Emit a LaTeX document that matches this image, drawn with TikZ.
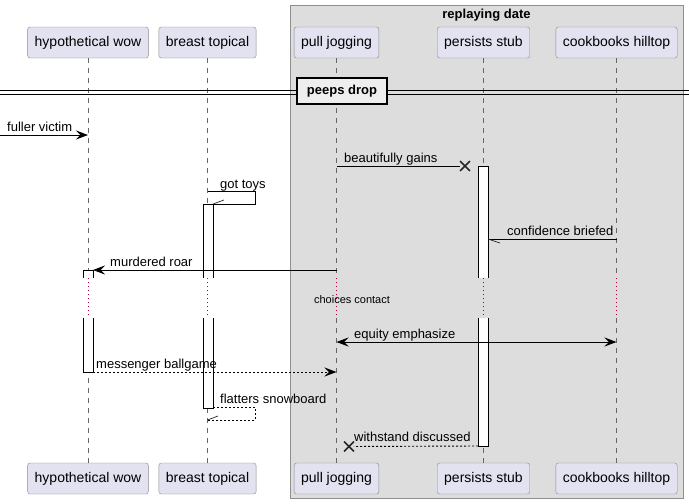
\documentclass[tikz,border=0pt]{standalone}
\usepackage{fontspec}
\setmainfont{Liberation Sans}
\usepackage{xcolor}
\usepackage{tikz}
\usetikzlibrary{shapes}
\usetikzlibrary{shapes.misc}
\usetikzlibrary{arrows.meta}
\definecolor{partfill}{HTML}{E2E2F0}
\definecolor{partline}{HTML}{8A8A8A}
\definecolor{groupfill}{HTML}{DDDDDD}
\definecolor{groupline}{HTML}{8F8F8F}
\definecolor{divfill}{HTML}{EEEEEE}
\definecolor{delaydot}{HTML}{A80036}
\tikzset{cross/.style={cross out, draw=black!85, line width=1.6pt, fill=none, minimum size=2*(#1-\pgflinewidth), inner sep=0pt, outer sep=0pt}, cross/.default={6.5pt}}
\tikzset{part/.style={draw=partline, fill=partfill, rounded corners=2.5pt, minimum height=31pt, inner xsep=7pt, font=\fontsize{14}{16}\selectfont}}
\tikzset{life/.style={draw=black!60, line width=0.7pt, dash pattern=on 5pt off 5pt}}
\tikzset{delay/.style={draw=delaydot, line width=0.8pt, dash pattern=on 1pt off 3pt}}
\tikzset{msg/.style={draw=black, line width=0.9pt, -{Stealth[length=12pt, width=9pt, inset=4.5pt]}}}
\tikzset{rmsg/.style={msg, dash pattern=on 2pt off 2pt}}
\tikzset{half/.style={draw=black!85, line width=0.7pt}}
\tikzset{lbl/.style={anchor=base west, inner sep=0pt}}
\tikzset{act/.style={draw=black, line width=0.9pt}}

\begin{document}
\begin{tikzpicture}[x=1pt, y=-1pt, font=\fontsize{13}{15}\selectfont]
\useasboundingbox (0,0) rectangle (689,504);
\fill[white] (0,0) rectangle (689,504);
% the box round the right three
\draw[fill=groupfill, draw=groupline, line width=0.8pt] (290,5) rectangle (683,498);
\node[font=\bfseries\fontsize{13}{15}\selectfont] (grp) at (486.5,15) {replaying date};

% heads and feet
\node[part] (hw) at (88,42.5) {hypothetical wow};
\node[part] (bt) at (207.5,42.5) {breast topical};
\node[part] (pj) at (336.5,42.5) {pull jogging};
\node[part] (ps) at (483.5,42.5) {persists stub};
\node[part] (ch) at (616.5,42.5) {cookbooks hilltop};
\node[part] (hwB) at (88,478.5) {hypothetical wow};
\node[part] (btB) at (207.5,478.5) {breast topical};
\node[part] (pjB) at (336.5,478.5) {pull jogging};
\node[part] (psB) at (483.5,478.5) {persists stub};
\node[part] (chB) at (616.5,478.5) {cookbooks hilltop};

% lifelines
\draw[life] (hw.south) -- (hw |- 0,278);
\draw[delay] (hw |- 0,278) -- (hw |- 0,318);
\draw[life] (hw |- 0,318) -- (hwB.north);
\draw[life] (bt.south) -- (bt |- 0,278);
\draw[delay] (bt |- 0,278) -- (bt |- 0,318);
\draw[life] (bt |- 0,318) -- (btB.north);
\draw[life] (pj.south) -- (pj |- 0,278);
\draw[delay] (pj |- 0,278) -- (pj |- 0,318);
\draw[life] (pj |- 0,318) -- (pjB.north);
\draw[life] (ps.south) -- (ps |- 0,278);
\draw[delay] (ps |- 0,278) -- (ps |- 0,318);
\draw[life] (ps |- 0,318) -- (psB.north);
\draw[life] (ch.south) -- (ch |- 0,278);
\draw[delay] (ch |- 0,278) -- (ch |- 0,318);
\draw[life] (ch |- 0,318) -- (chB.north);

% divider
\draw[line width=0.9pt] (0,90) -- (689,90) (0,94) -- (689,94);
\node[draw=black, line width=2pt, fill=divfill, minimum width=90pt, minimum height=26pt, inner sep=0pt, font=\bfseries\fontsize{13}{15}\selectfont] (div) at (342,91) {peeps drop};

% activations
\fill[white] (83,270) rectangle (93,278);
\draw[act] (83,278) -- (83,270) -- (93,270) -- (93,278);
\fill[white] (83,318) rectangle (93,372);
\draw[act] (83,318) -- (83,372) -- (93,372) -- (93,318);
\fill[white] (203,204) rectangle (213,278);
\draw[act] (203,278) -- (203,204) -- (213,204) -- (213,278);
\fill[white] (203,318) rectangle (213,408);
\draw[act] (203,318) -- (203,408) -- (213,408) -- (213,318);
\fill[white] (478,166) rectangle (488,278);
\draw[act] (478,278) -- (478,166) -- (488,166) -- (488,278);
\fill[white] (478,318) rectangle (488,446);
\draw[act] (478,318) -- (478,446) -- (488,446) -- (488,318);
\coordinate (hwa) at (93,0);
\coordinate (bta) at (213,0);
\coordinate (psl) at (478,0);
\coordinate (psr) at (488,0);

% messages
\coordinate (in) at (0,135);
\draw[msg] (in) -- (hw |- in);
\node[lbl] (m1) at (7,131.5) {fuller victim};

\node[cross] (x1) at (465,166) {};
\draw[draw=black, line width=0.9pt] (pj |- x1) -- (x1);
\node[lbl] (m2) at (344,162) {beautifully gains};

\coordinate (s1) at (255,191);
\draw[draw=black, line width=0.9pt] (bt |- s1) -- (s1) -- (s1 |- 0,204) -- (bta |- 0,204);
\draw[half] (bta |- 0,204) -- (224,200);
\node[lbl] (m3) at (220,188) {got toys};

\draw[draw=black, line width=0.9pt] (ch |- 0,239) -- (psr |- 0,239);
\draw[half] (psr |- 0,239) -- (500,243);
\node[lbl] (m4) at (507,235.5) {confidence briefed};

\draw[msg] (pj |- 0,270) -- (hwa |- 0,270);
\node[lbl] (m5) at (110,266) {murdered roar};

\node[font=\fontsize{11}{13}\selectfont] (dl) at (352,299.5) {choices contact};

\draw[msg, {Stealth[length=12pt, width=9pt, inset=4.5pt]}-{Stealth[length=12pt, width=9pt, inset=4.5pt]}] (pj |- 0,342) -- (ch |- 0,342);
\node[lbl] (m6) at (354,338) {equity emphasize};

\draw[rmsg] (hwa |- 0,372) -- (pj |- 0,372);
\node[lbl] (m7) at (96,368) {messenger ballgame};

\coordinate (s2) at (255,407);
\draw[draw=black, line width=0.9pt, dash pattern=on 2pt off 2pt] (bta |- s2) -- (s2) -- (s2 |- 0,420) -- (bt |- 0,420);
\draw[half] (bt |- 0,420) -- (218,416);
\node[lbl] (m8) at (220,403) {flatters snowboard};

\node[cross] (x2) at (349,446.5) {};
\draw[draw=black, line width=0.9pt, dash pattern=on 2pt off 2pt] (psl |- 0,446) -- (x2);
\node[lbl] (m9) at (354,441.5) {withstand discussed};
\end{tikzpicture}
\end{document}
